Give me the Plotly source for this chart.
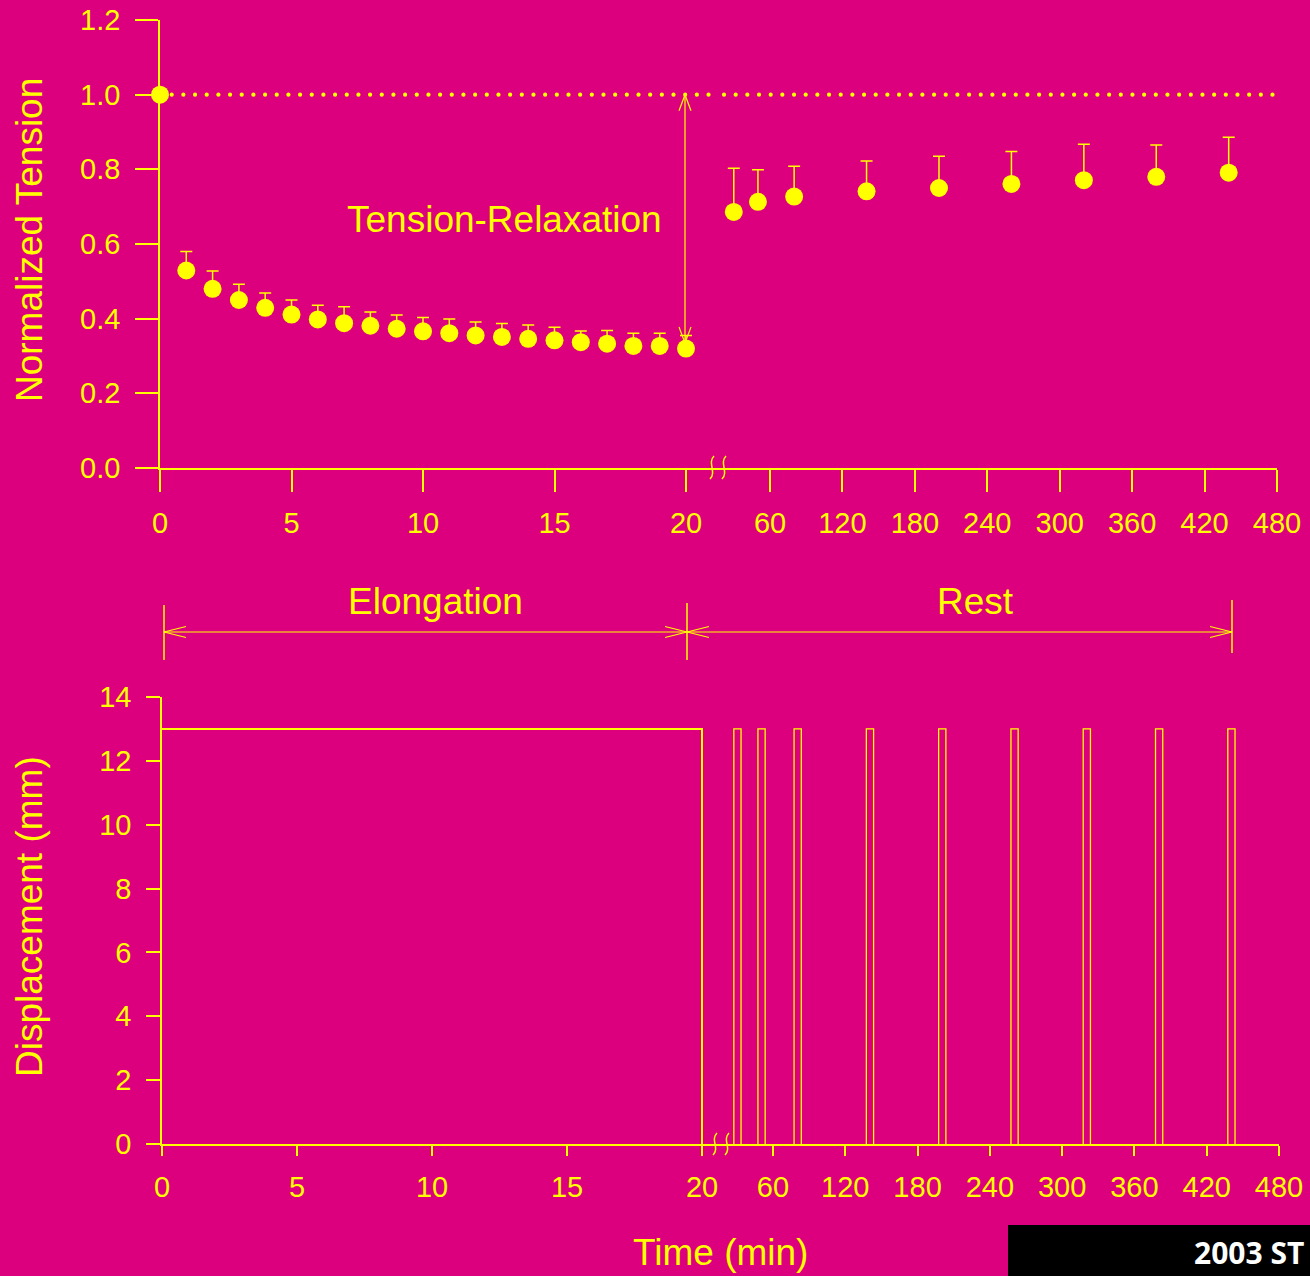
import numpy as np
import plotly.graph_objects as go

# ---------------- data ----------------
elong_time = [0, 1, 2, 3, 4, 5, 6, 7, 8, 9, 10, 11, 12, 13, 14, 15, 16, 17, 18, 19, 20]
elong_tension = [1.0, 0.529, 0.480, 0.450, 0.429, 0.411, 0.398, 0.388, 0.381, 0.373, 0.366,
                 0.361, 0.355, 0.351, 0.346, 0.342, 0.337, 0.333, 0.327, 0.327, 0.320]
elong_err = [0.0, 0.051, 0.048, 0.042, 0.040, 0.039, 0.038, 0.044, 0.037, 0.037, 0.037,
             0.038, 0.036, 0.036, 0.037, 0.035, 0.030, 0.035, 0.034, 0.034, 0.035]
rest_time = [30, 50, 80, 140, 200, 260, 320, 380, 440]
rest_tension = [0.686, 0.713, 0.727, 0.741, 0.750, 0.761, 0.771, 0.780, 0.791]
rest_err = [0.117, 0.086, 0.081, 0.081, 0.085, 0.087, 0.096, 0.085, 0.095]

disp_elong_start = 0
disp_elong_end = 20
disp_level = 13
pulse_start = [27.5, 47.5, 77.5, 137.5, 197.5, 257.5, 317.5, 377.5, 437.5]
pulse_end = [33.5, 53.5, 83.5, 143.5, 203.5, 263.5, 323.5, 383.5, 443.5]

seg1_ticks = [0, 5, 10, 15, 20]
seg2_ticks = [60, 120, 180, 240, 300, 360, 420, 480]
y1_ticks = [0.0, 0.2, 0.4, 0.6, 0.8, 1.0, 1.2]
y2_ticks = [0, 2, 4, 6, 8, 10, 12, 14]

# ---------------- layout constants ----------------
W, H = 1310, 1276
BG = "#DC007F"
YEL = "#FFFF00"
FONT = "Liberation Sans, Arial, sans-serif"


# broken time axis scales (time -> pixel-space axis units)
def xt_top(t):
    return 160 + t * 26.3 if t <= 20 else 697.57 + t * 1.2071


def xt_bot(t):
    return 162 + t * 27.0 if t <= 20 else 700.7 + t * 1.2048


def px(x):
    return x / W


def py(y):
    return 1 - y / H


fig = go.Figure()

# reference dotted line at 1.0
dots1 = np.arange(171.7, 712, 11.67)
dots2 = np.arange(724, 1277, 11.67)
dots = np.concatenate([dots1, dots2])
fig.add_trace(go.Scatter(x=dots, y=[1.0] * len(dots), mode="markers",
                         marker=dict(size=4.2, color=YEL), hoverinfo="skip",
                         xaxis="x", yaxis="y", cliponaxis=False, showlegend=False))

# tension points
all_t = elong_time + rest_time
all_v = elong_tension + rest_tension
all_e = elong_err + rest_err
fig.add_trace(go.Scatter(
    x=[xt_top(t) for t in all_t], y=all_v, mode="markers",
    marker=dict(size=18, color=YEL),
    error_y=dict(type="data", symmetric=False, array=all_e, arrayminus=[0] * len(all_e),
                 color=YEL, thickness=1.5, width=6),
    xaxis="x", yaxis="y", cliponaxis=False, showlegend=False))

# displacement trace
dx, dy = [], []
dx += [xt_bot(disp_elong_start), xt_bot(disp_elong_end), xt_bot(disp_elong_end), None]
dy += [disp_level, disp_level, 0, None]
fig.add_trace(go.Scatter(x=dx, y=dy, mode="lines", line=dict(color=YEL, width=2),
                         xaxis="x2", yaxis="y2", cliponaxis=False, showlegend=False,
                         hoverinfo="skip"))
px_, py_ = [], []
for s, e in zip(pulse_start, pulse_end):
    px_ += [xt_bot(s), xt_bot(s), xt_bot(e), xt_bot(e), None]
    py_ += [0, disp_level, disp_level, 0, None]
fig.add_trace(go.Scatter(x=px_, y=py_, mode="lines", line=dict(color=YEL, width=1.3),
                         xaxis="x2", yaxis="y2", cliponaxis=False, showlegend=False,
                         hoverinfo="skip"))

axis_common = dict(showgrid=False, zeroline=False, showline=True, linecolor=YEL, linewidth=1.5,
                   ticks="outside", tickcolor=YEL, tickwidth=1.5, automargin=False,
                   tickfont=dict(family=FONT, size=29, color=YEL))

fig.update_layout(
    width=W, height=H, paper_bgcolor=BG, plot_bgcolor=BG,
    margin=dict(l=0, r=0, t=0, b=0, autoexpand=False), showlegend=False,
    xaxis=dict(domain=[px(160), px(1277)], range=[160, 1277], anchor="y",
               tickmode="array",
               tickvals=[xt_top(t) for t in seg1_ticks + seg2_ticks],
               ticktext=[str(t) for t in seg1_ticks + seg2_ticks],
               ticklen=22, ticklabelstandoff=6, **axis_common),
    yaxis=dict(domain=[py(468), py(20)], range=[0, 1.2], anchor="x",
               tickmode="array", tickvals=y1_ticks,
               ticktext=[f"{v:.1f}" for v in y1_ticks],
               ticklen=23, ticklabelstandoff=9, **axis_common),
    xaxis2=dict(domain=[px(162), px(1279)], range=[162, 1279], anchor="y2",
                tickmode="array",
                tickvals=[xt_bot(t) for t in seg1_ticks + seg2_ticks],
                ticktext=[str(t) for t in seg1_ticks + seg2_ticks],
                ticklen=10, ticklabelstandoff=6, **axis_common),
    yaxis2=dict(domain=[py(1144), py(697)], range=[0, 14], anchor="x2",
                tickmode="array", tickvals=y2_ticks,
                ticktext=[str(v) for v in y2_ticks],
                ticklen=14, ticklabelstandoff=9, **axis_common),
)

shapes = []


def line(x0, y0, x1, y1, w=1.5):
    shapes.append(dict(type="line", xref="paper", yref="paper",
                       x0=px(x0), y0=py(y0), x1=px(x1), y1=py(y1),
                       line=dict(color=YEL, width=w)))


def squiggle(cx, y0, y1):
    p = (f"M {px(cx + 2)},{py(y0)} C {px(cx - 5)},{py(y0 + 7)} "
         f"{px(cx + 5)},{py(y1 - 7)} {px(cx - 2)},{py(y1)}")
    shapes.append(dict(type="path", xref="paper", yref="paper", path=p,
                       line=dict(color=YEL, width=1.5)))


# axis break marks
squiggle(712, 456, 479)
squiggle(724, 456, 479)
squiggle(715, 1133, 1155)
squiggle(727, 1133, 1155)

# tension-relaxation vertical double arrow
ax = xt_top(20) - 1
y_top = 468 - 1.0 * 373.33
y_bot = 468 - 0.335 * 373.33
line(ax, y_top, ax, y_bot, 1.2)
line(ax, y_top, ax - 6, y_top + 16, 1.2)
line(ax, y_top, ax + 6, y_top + 16, 1.2)
line(ax, y_bot, ax - 6, y_bot - 16, 1.2)
line(ax, y_bot, ax + 6, y_bot - 16, 1.2)

# elongation / rest double arrows
xa, xb, xc = 164, 687, 1232
ym = 632
line(xa, 605, xa, 660)
line(xb, 603, xb, 660)
line(xc, 600, xc, 653)
line(xa, ym, xb, ym, 1.2)
line(xb, ym, xc, ym, 1.2)
for tip, d in [(xa, 1), (xb, -1), (xb, 1), (xc, -1)]:
    line(tip, ym, tip + d * 22, ym - 5.5, 1.2)
    line(tip, ym, tip + d * 22, ym + 5.5, 1.2)

# black box bottom right
shapes.append(dict(type="rect", xref="paper", yref="paper",
                   x0=px(1008), x1=px(1310), y0=py(1276), y1=py(1225),
                   fillcolor="black", line=dict(width=0), layer="above"))
fig.update_layout(shapes=shapes)

big = dict(family=FONT, size=37, color=YEL)
ann = [
    dict(text="Tension-Relaxation", x=px(505), y=py(219)),
    dict(text="Elongation", x=px(436), y=py(601)),
    dict(text="Rest", x=px(975), y=py(601)),
    dict(text="Time (min)", x=px(720), y=py(1252)),
    dict(text="Normalized Tension", x=px(30), y=py(240), textangle=-90),
    dict(text="Displacement (mm)", x=px(30), y=py(917), textangle=-90),
]
annotations = []
for a in ann:
    d = dict(xref="paper", yref="paper", showarrow=False, font=big,
             xanchor="center", yanchor="middle")
    d.update(a)
    annotations.append(d)
annotations.append(dict(text="<b>2003 ST</b>", xref="paper", yref="paper",
                        x=px(1306), y=py(1252), xanchor="right", yanchor="middle",
                        showarrow=False,
                        font=dict(family="Open Sans, Noto Sans, sans-serif", size=30,
                                  color="white")))
fig.update_layout(annotations=annotations)

fig.write_html("out.html")
